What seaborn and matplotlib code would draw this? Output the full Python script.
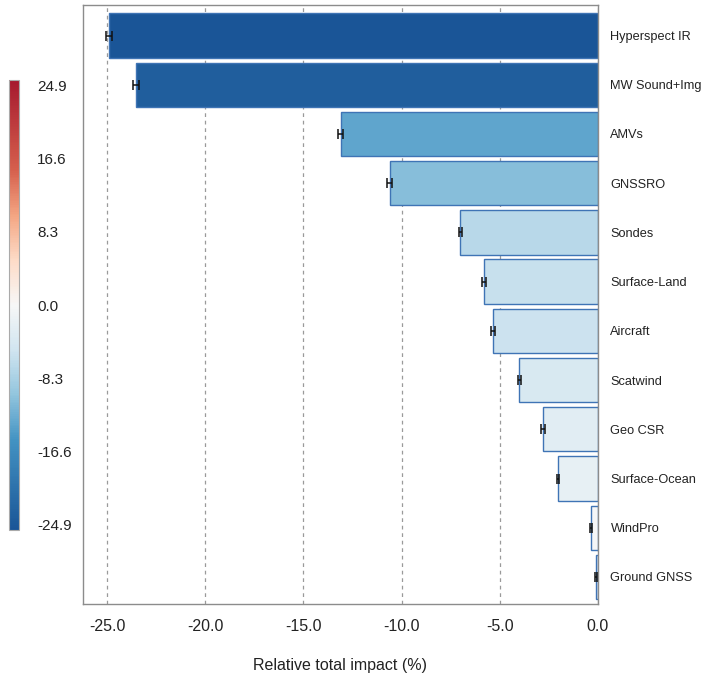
import numpy as np
import pandas as pd
import matplotlib
matplotlib.use("Agg")
import matplotlib.pyplot as plt
from matplotlib.colors import LinearSegmentedColormap, Normalize
import matplotlib.ticker as mticker
import seaborn as sns

# Observing systems and their relative total impact (%)
systems = ["Hyperspect IR", "MW Sound+Img", "AMVs", "GNSSRO", "Sondes",
           "Surface-Land", "Aircraft", "Scatwind", "Geo CSR",
           "Surface-Ocean", "WindPro", "Ground GNSS"]
impact = [-24.9, -23.5, -13.1, -10.6, -7.0, -5.8, -5.35, -4.0, -2.8, -2.05, -0.35, -0.1]
impact_err = [0.15, 0.15, 0.13, 0.12, 0.1, 0.1, 0.1, 0.08, 0.08, 0.06, 0.05, 0.03]

cbar_ticks = [-24.9, -16.6, -8.3, 0.0, 8.3, 16.6, 24.9]
x_ticks = [-25.0, -20.0, -15.0, -10.0, -5.0, 0.0]

sns.set_theme(style="white")
plt.rcParams["font.family"] = ["Liberation Sans", "DejaVu Sans"]

cmap = LinearSegmentedColormap.from_list(
    "impact",
    [(0.0, "#1a5597"), (0.2, "#4393c3"), (0.3, "#92c5de"), (0.4, "#d1e5f0"),
     (0.5, "#f7f7f7"), (0.6, "#fddbc7"), (0.7, "#f4a582"), (0.8, "#d6604d"),
     (1.0, "#a6192e")])
norm = Normalize(vmin=-24.9, vmax=24.9)
colors = [cmap(norm(v)) for v in impact]

df = pd.DataFrame({"system": systems, "impact": impact})

fig = plt.figure(figsize=(7.02, 6.77), dpi=100)
ax = fig.add_axes([0.1182, 0.1078, 0.7336, 0.8848])

ax.grid(axis="x", color="#9a9a9a", linestyle=(0, (3, 3)), linewidth=0.9)
ax.set_axisbelow(True)

sns.barplot(data=df, x="impact", y="system", hue="system", palette=colors,
            saturation=1, orient="h", width=0.9, legend=False,
            edgecolor="#3f74b5", linewidth=1.0, ax=ax, zorder=2)
ax.errorbar(impact, np.arange(len(systems)), xerr=impact_err, fmt="none",
            ecolor="#111111", elinewidth=1.1, capsize=3.5, capthick=1.1, zorder=3)

ax.set_xlim(-26.22, 0.0)
ax.set_ylim(11.55, -0.62)
ax.set_xticks(x_ticks)
ax.xaxis.set_major_formatter(mticker.FormatStrFormatter("%.1f"))
ax.yaxis.tick_right()
ax.set_ylabel("")
ax.set_xlabel("Relative total impact (%)", fontsize=11.5, labelpad=17, color="#222222")
ax.tick_params(axis="x", length=0, pad=11, labelsize=11.5, labelcolor="#222222")
ax.tick_params(axis="y", length=0, pad=9, labelsize=9.2, labelcolor="#222222")
for s in ax.spines.values():
    s.set_color("#8c8c8c")
    s.set_linewidth(1.0)

# Colour scale on the left
cax = fig.add_axes([0.0128, 0.2171, 0.0142, 0.6647])
sm = matplotlib.cm.ScalarMappable(norm=Normalize(vmin=-25.5, vmax=25.5), cmap=cmap)
cb = fig.colorbar(sm, cax=cax, ticks=cbar_ticks)
cb.ax.yaxis.set_major_formatter(mticker.FormatStrFormatter("%.1f"))
cb.ax.yaxis.set_minor_locator(mticker.FixedLocator(
    [(a + b) / 2 for a, b in zip(cbar_ticks[:-1], cbar_ticks[1:])]))
cb.ax.tick_params(which="major", length=2, pad=13, labelsize=11, labelcolor="#222222", direction="in")
cb.ax.tick_params(which="minor", length=1.5, direction="in")
cb.outline.set_edgecolor("#aaaaaa")
cb.outline.set_linewidth(0.8)

fig.savefig("out.png", dpi=100)
